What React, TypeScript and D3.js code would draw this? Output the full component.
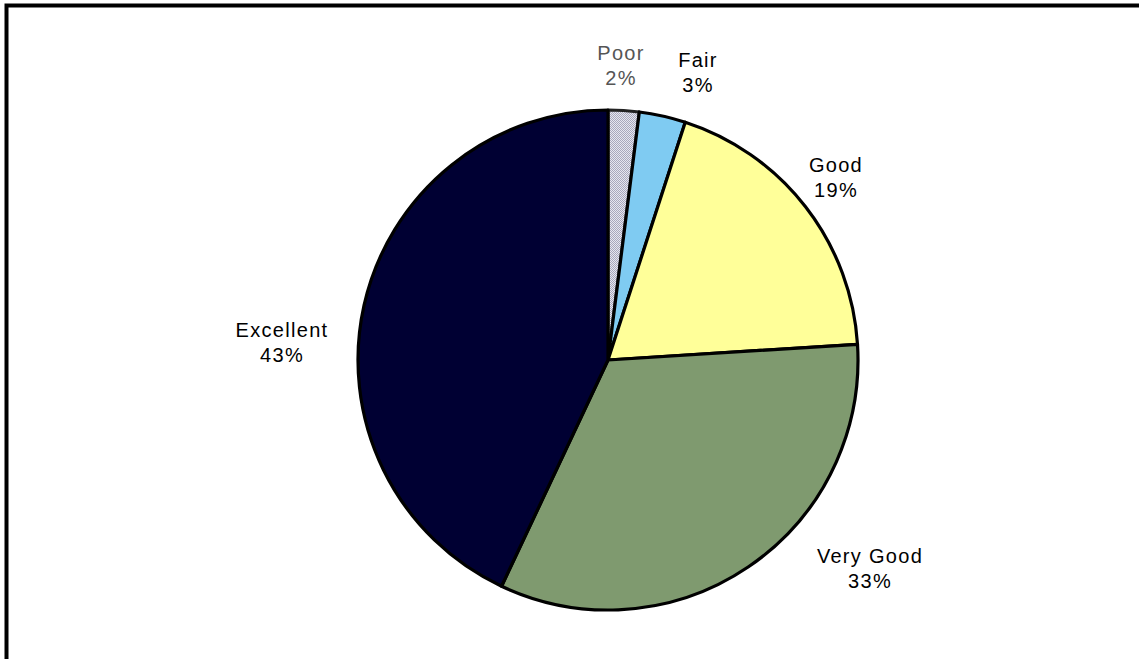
import React from "react";
import * as d3 from "d3";

const categories = ["Poor", "Fair", "Good", "Very Good", "Excellent"];
const values = [2, 3, 19, 33, 43];
const labels = ["2%", "3%", "19%", "33%", "43%"];
const colors = ["url(#poorPattern)", "#7fcbf2", "#ffff99", "#7f9a6f", "#000033"];
const textColors = ["#555555", "#000", "#000", "#000", "#000"];
const labelPos: [number, number][] = [
  [621, 60],
  [698, 67],
  [836, 172],
  [870, 563],
  [282, 337],
];

export default function App() {
  const W = 1139, H = 659;
  const cx = 608, cy = 360, r = 250;
  const pie = d3.pie<number>().sort(null).value((d) => d)(values);
  const arc = d3.arc<d3.PieArcDatum<number>>().innerRadius(0).outerRadius(r);
  return (
    <svg
      width={W}
      height={H}
      style={{ position: "fixed", left: 0, top: 0, background: "#fff" }}
    >
      <defs>
        <pattern id="poorPattern" width="2" height="2" patternUnits="userSpaceOnUse">
          <rect width="2" height="2" fill="#e6e6f0" />
          <rect width="1" height="1" fill="#a8a8bc" />
          <rect x="1" y="1" width="1" height="1" fill="#a8a8bc" />
        </pattern>
      </defs>
      <rect x={6.5} y={5.5} width={1300} height={1300} fill="none" stroke="#000" strokeWidth={4} />
      <g transform={`translate(${cx},${cy})`}>
        {pie.map((p, i) => (
          <path
            key={categories[i]}
            d={arc(p) || ""}
            fill={colors[i]}
            stroke={i === 0 ? "#222" : "#000"}
            strokeWidth={3.2}
            strokeLinejoin="round"
          />
        ))}
      </g>
      {categories.map((c, i) => (
        <text
          key={c}
          x={labelPos[i][0]}
          y={labelPos[i][1]}
          textAnchor="middle"
          fontFamily="Liberation Sans, Arial, sans-serif"
          fontSize={20}
          letterSpacing={1.3}
          fill={textColors[i]}
        >
          <tspan x={labelPos[i][0]}>{c}</tspan>
          <tspan x={labelPos[i][0]} dy={25}>{labels[i]}</tspan>
        </text>
      ))}
    </svg>
  );
}
